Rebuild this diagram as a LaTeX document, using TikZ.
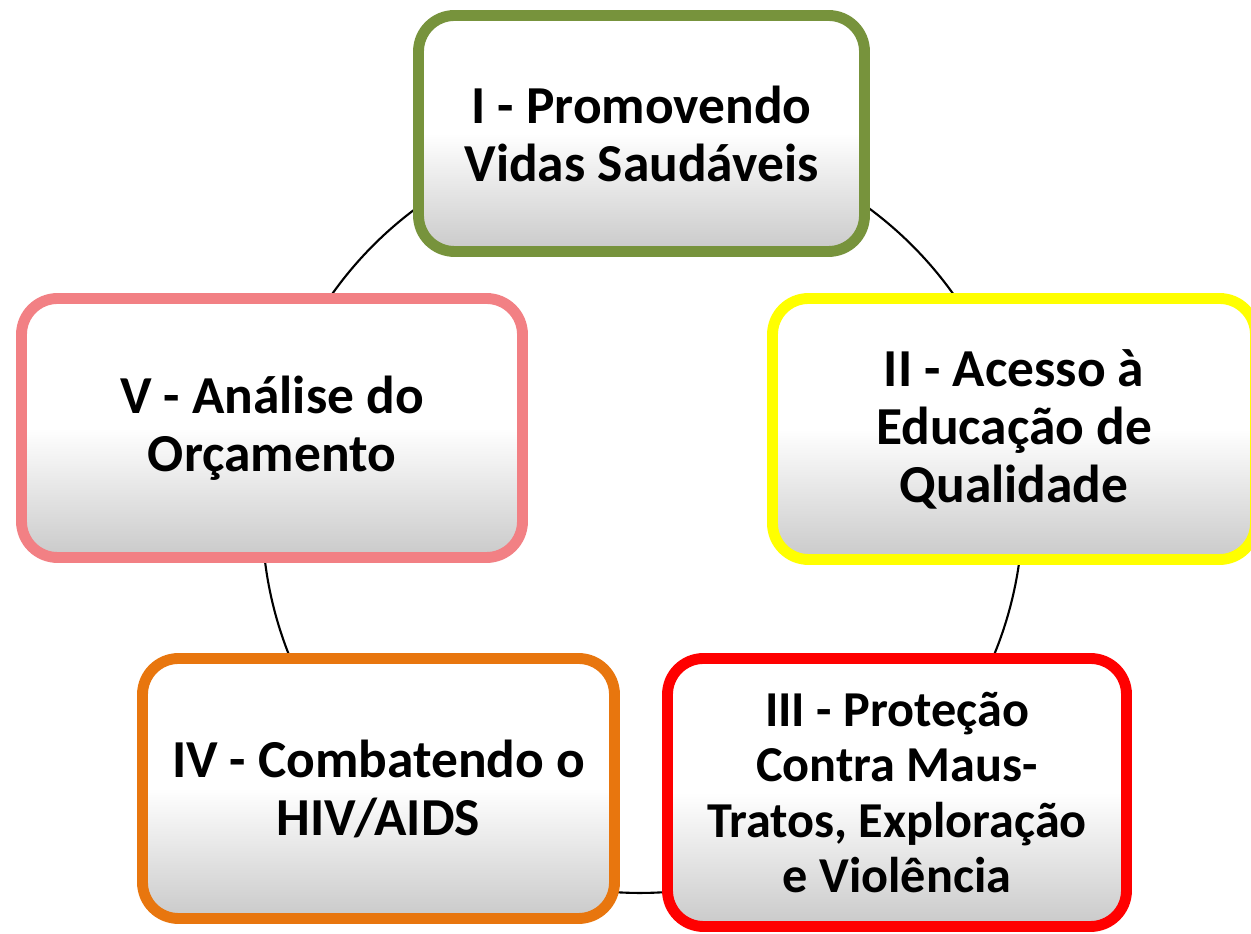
\documentclass[tikz,border=0pt]{standalone}
\usepackage{fontspec}
\setmainfont{Carlito}
\usetikzlibrary{shadows,backgrounds}
\definecolor{verde}{RGB}{119,147,60}
\definecolor{amarelo}{RGB}{255,255,0}
\definecolor{vermelho}{RGB}{255,0,0}
\definecolor{laranja}{RGB}{232,118,14}
\definecolor{rosa}{RGB}{242,128,132}

\begin{document}
\begin{tikzpicture}[
        caixa/.style={rectangle, rounded corners=0.72cm, line width=6.2pt,
            top color=white, bottom color=black!21, middle color=white,
            align=center, font=\fontsize{30.4}{33}\selectfont\bfseries,
            drop shadow={shadow xshift=0.4pt, shadow yshift=-2.8pt, opacity=0.3}}, % Стиль блоков
        elo/.style={draw, line width=1.2pt}, % Дуги между блоками
    ]
    \useasboundingbox (0,0) rectangle (25.02,18.68);

    \node[caixa, draw=verde, minimum width=8.92cm, minimum height=4.72cm] (promo) at (12.83,16.01) {I - Promovendo\\Vidas Saudáveis};
    \node[caixa, draw=amarelo, minimum width=9.66cm, minimum height=5.22cm] (educ) at (20.28,10.10) {II - Acesso à\\Educação de\\Qualidade};
    \node[caixa, draw=vermelho, minimum width=9.18cm, minimum height=5.36cm,
        font=\fontsize{28.6}{31.5}\selectfont\bfseries] (prot) at (17.94,2.83) {III - Proteção\\Contra Maus-\\Tratos, Exploração\\e Violência};
    \node[caixa, draw=laranja, minimum width=9.44cm, minimum height=5.20cm] (hiv) at (7.57,2.91) {IV - Combatendo o\\HIV/AIDS};
    \node[caixa, draw=rosa, minimum width=10.02cm, minimum height=5.18cm] (orc) at (5.44,10.12) {V - Análise do\\Orçamento};

    % дуги по окружности, под блоками
    \begin{scope}[on background layer]
        \draw[elo] (promo.center) to[bend left=38.6, looseness=0.955] (educ.center);
        \draw[elo] (educ.center) to[bend left=30.2, looseness=0.913] (prot.center);
        \draw[elo] (prot.center) to[bend left=43.1, looseness=0.985] (hiv.center);
        \draw[elo] (hiv.center) to[bend left=29.6, looseness=0.911] (orc.center);
        \draw[elo] (orc.center) to[bend left=38.4, looseness=0.953] (promo.center);
    \end{scope}
\end{tikzpicture}
\end{document}
